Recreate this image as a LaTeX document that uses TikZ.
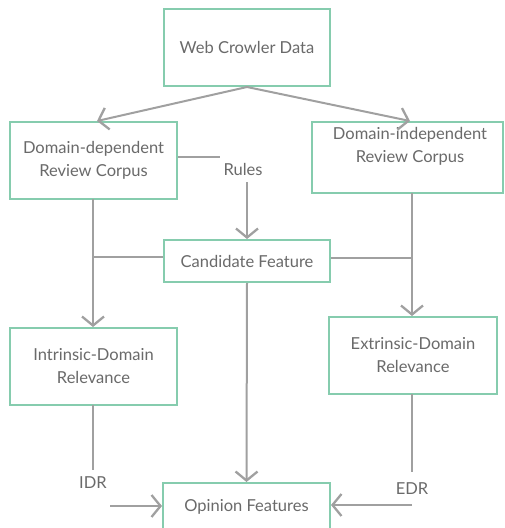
\documentclass[tikz,border=0pt]{standalone}
\usepackage{fontspec}
\setmainfont{Lato}
\usetikzlibrary{arrows.meta,calc}
\definecolor{boxgreen}{HTML}{86CCAE}
\definecolor{txtgray}{HTML}{6A6A6A}
\definecolor{linegray}{HTML}{A0A0A0}
\tikzset{
  box/.style={draw=boxgreen, line width=2pt, fill=white, inner sep=0pt, align=center,
    text=txtgray, font=\fontsize{16.5}{23}\selectfont},
  lbl/.style={text=txtgray, inner sep=0pt, align=center, font=\fontsize{16.5}{23}\selectfont},
  conn/.style={draw=linegray, line width=2pt},
  arr/.style={conn, -{Straight Barb[length=9pt,width=22pt,line width=2.3pt]}}
}
\begin{document}
\begin{tikzpicture}[x=1pt,y=-1pt]
\useasboundingbox (0,0) rectangle (504,528);
\clip (0,0) rectangle (504,528);
% boxes
\node[box, minimum width=166pt, minimum height=77pt] (web) at (247,47.5) {Web Crowler Data};
\node[box, minimum width=167pt, minimum height=77pt] (dd) at (93.5,160.5) {Domain-dependent\\Review Corpus};
\node[box, minimum width=191pt, minimum height=71pt] (di) at (407.5,157.5) {};
\node[lbl] (ditext) at (410,146) {Domain-independent\\Review Corpus};
\node[box, minimum width=166pt, minimum height=42pt] (cand) at (247,261) {Candidate Feature};
\node[box, minimum width=167pt, minimum height=77pt] (int) at (93.5,366.5) {Intrinsic-Domain\\Relevance};
\node[box, minimum width=168pt, minimum height=77pt] (ext) at (413,355.5) {Extrinsic-Domain\\Relevance};
\node[box, minimum width=167pt, minimum height=48pt] (op) at (246.5,507) {Opinion Features};
% labels
\node[lbl] (rules) at (243,169) {Rules};
\node[lbl] (idr) at (93,483) {IDR};
\node[lbl] (edr) at (412,489) {EDR};
% coordinates
\coordinate (rulesL) at (220,157);
\coordinate (rulesTop) at (247,182);
\coordinate (jl) at (93,257);
\coordinate (jr) at (412,258);
\coordinate (idrEnd) at (93,470);
\coordinate (idrStart) at (110,506);
\coordinate (edrEnd) at (412,472);
\coordinate (edrStart) at (412,505);
% connectors
\draw[arr] (web.south) -- (97,121);
\draw[arr] (web.south) -- (410,121);
\draw[conn] (dd.east |- rulesL) -- (rulesL);
\draw[arr] (rulesTop) -- (cand.north);
\draw[arr] (93,199) -- (93,327);
\draw[conn] (cand.west |- jl) -- (jl);
\draw[arr] (412,193) -- (412,316);
\draw[conn] (cand.east |- jr) -- (jr);
\draw[arr] (cand.south) -- (op.north);
\draw[conn] (93,405) -- (idrEnd);
\draw[arr] (idrStart) -- (op.west |- idrStart);
\draw[conn] (412,394) -- (edrEnd);
\draw[arr] (edrStart) -- (op.east |- edrStart);
\end{tikzpicture}
\end{document}
